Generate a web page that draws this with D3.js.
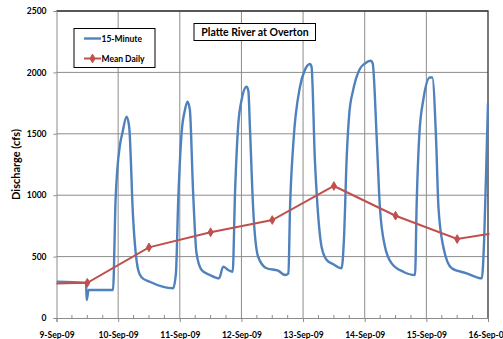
<!DOCTYPE html>
<html>
<head>
<meta charset="utf-8">
<script src="https://cdn.jsdelivr.net/npm/d3@7"></script>
<style>
  body { margin: 0; background: #fff; }
  svg { display: block; font-family: Lato, "Liberation Sans", sans-serif; font-weight: bold; }
</style>
</head>
<body>
<svg id="chart" width="503" height="339"></svg>
<script>
// 15-minute discharge, hours after 9-Sep-09 00:00
var quarterHours = [0, 11, 11.5, 11.75, 12.5, 22, 23, 24.7, 25.6, 27.3, 28.3, 29.8, 31.8, 33.2, 36.3, 45.4,
  46.5, 47.4, 48.7, 50, 51, 51.9, 53.2, 54.5, 56.5, 59.7, 63.3, 64.9, 66.8, 68.6,
  69.5, 70.7, 72.1, 74, 74.7, 75.3, 76.6, 78.5, 81.8, 86.3, 89, 90.3,
  90.9, 92.2, 94.8, 96.7, 98.7, 99.3, 100.6, 101.3, 103.2, 105.2, 107.6, 111,
  111.9, 113, 114, 115.5, 118.2, 120.1, 122.3, 123.1, 124.7, 125.9, 127.9, 130.5, 135, 139.6,
  140.2, 141.3, 142.8, 145.4, 146.3, 147.8, 148.7, 150.6, 153.9, 159.7, 165.6,
  166.5, 167.6, 168];
var quarterFlow = [296, 287, 280, 147, 228, 228, 960, 1408, 1500, 1640, 1557, 825, 391, 330, 295, 242,
  366, 960, 1506, 1693, 1761, 1700, 1017, 529, 391, 350, 323, 418, 391, 377,
  1015, 1557, 1780, 1883, 1850, 1557, 879, 499, 405, 385, 350, 364,
  879, 1422, 1883, 2019, 2068, 2046, 1286, 1015, 580, 472, 440, 405,
  635, 1313, 1666, 1856, 2032, 2073, 2095, 2073, 1449, 906, 580, 445, 377, 350,
  906, 1503, 1775, 1959, 1959, 1449, 906, 580, 405, 364, 323,
  635, 1449, 1748];

// mean daily discharge, plotted at noon
var dailyDates = ["2009-09-08", "2009-09-09", "2009-09-10", "2009-09-11", "2009-09-12",
  "2009-09-13", "2009-09-14", "2009-09-15", "2009-09-16"];
var dailyFlow = [277, 287, 575, 698, 798, 1075, 833, 643, 725];

var yTicks = [0, 500, 1000, 1500, 2000, 2500];

var start = new Date(2009, 8, 9), end = new Date(2009, 8, 16);
var parse = d3.timeParse("%Y-%m-%d");

var quarter = quarterHours.map((h, i) => ({ t: new Date(+start + h * 3600e3), v: quarterFlow[i] }));
var daily = dailyDates.map((d, i) => ({ t: d3.timeHour.offset(parse(d), 12), v: dailyFlow[i] }));

var svg = d3.select("#chart");
var pLeft = 56.5, pRight = 488, pTop = 11, pBottom = 318;

var x = d3.scaleTime().domain([start, end]).range([pLeft, pRight]);
var y = d3.scaleLinear().domain([0, 2500]).range([pBottom, pTop]);

svg.append("clipPath").attr("id", "clip")
  .append("rect").attr("x", pLeft).attr("y", pTop - 3).attr("width", pRight - pLeft + 1.5).attr("height", pBottom - pTop + 3);

// grid
svg.append("g").selectAll("line").data(yTicks.slice(1)).enter().append("line")
  .attr("x1", pLeft).attr("x2", pRight).attr("y1", d => y(d)).attr("y2", d => y(d))
  .attr("stroke", "#8c8c8c").attr("stroke-width", 1);
var days = d3.timeDay.range(start, end).slice(1);
svg.append("g").selectAll("line").data(days).enter().append("line")
  .attr("x1", d => x(d)).attr("x2", d => x(d)).attr("y1", pTop).attr("y2", pBottom)
  .attr("stroke", "#8c8c8c").attr("stroke-width", 1);

// border top/right
svg.append("path").attr("d", `M${pLeft},${pTop}H${pRight}V${pBottom}`)
  .attr("fill", "none").attr("stroke", "#333").attr("stroke-width", 1.3);

// x axis
var xAxis = d3.axisBottom(x).ticks(d3.timeDay.every(1)).tickFormat(d3.timeFormat("%-d-%b-%y")).tickSize(4).tickPadding(10);
var gx = svg.append("g").attr("transform", `translate(0,${pBottom})`).call(xAxis);
gx.select(".domain").attr("stroke", "#8c8c8c");
gx.selectAll(".tick line").attr("stroke", "#8c8c8c");
gx.selectAll("text").attr("font-size", 8.5).attr("font-weight", "bold").attr("font-family", "Lato").attr("fill", "#000");
var minor = d3.timeHour.every(6).range(start, end).filter(d => d.getHours() != 0);
svg.append("g").selectAll("line").data(minor).enter().append("line")
  .attr("x1", d => x(d)).attr("x2", d => x(d)).attr("y1", pBottom).attr("y2", pBottom - 3)
  .attr("stroke", "#8c8c8c");

// y axis
var yAxis = d3.axisLeft(y).tickValues(yTicks).tickFormat(d3.format("d")).tickSize(3).tickPadding(7);
var gy = svg.append("g").attr("transform", `translate(${pLeft},0)`).call(yAxis);
gy.select(".domain").attr("stroke", "#8c8c8c");
gy.selectAll(".tick line").attr("stroke", "#8c8c8c");
gy.selectAll("text").attr("font-size", 8.5).attr("font-weight", "bold").attr("font-family", "Lato").attr("fill", "#000");

svg.append("text").attr("transform", `translate(20,${(pTop + pBottom) / 2}) rotate(-90)`)
  .attr("text-anchor", "middle").attr("font-size", 11).text("Discharge (cfs)");

// series
var plot = svg.append("g").attr("clip-path", "url(#clip)");
plot.append("path").datum(quarter)
  .attr("d", d3.line().x(d => x(d.t)).y(d => y(d.v)).curve(d3.curveMonotoneX))
  .attr("fill", "none").attr("stroke", "#4F81BD").attr("stroke-width", 2.4).attr("stroke-linejoin", "round");
plot.append("path").datum(daily)
  .attr("d", d3.line().x(d => x(d.t)).y(d => y(d.v)))
  .attr("fill", "none").attr("stroke", "#C0504D").attr("stroke-width", 2);
var diamond = d3.symbol().type(d3.symbolDiamond).size(22);
plot.selectAll(".mk").data(daily).enter().append("path")
  .attr("class", "mk").attr("d", diamond)
  .attr("transform", d => `translate(${x(d.t)},${y(d.v)})`)
  .attr("fill", "#C0504D").attr("stroke", "#C0504D");

// legend
var lg = svg.append("g");
lg.append("rect").attr("x", 74).attr("y", 28.5).attr("width", 81).attr("height", 39)
  .attr("fill", "#fff").attr("stroke", "#000").attr("stroke-width", 1);
lg.append("line").attr("x1", 84).attr("x2", 101).attr("y1", 38.5).attr("y2", 38.5)
  .attr("stroke", "#4F81BD").attr("stroke-width", 2.4);
lg.append("text").attr("x", 101.5).attr("y", 41.5).attr("font-size", 8.5).text("15-Minute");
lg.append("line").attr("x1", 84).attr("x2", 101).attr("y1", 58.5).attr("y2", 58.5)
  .attr("stroke", "#C0504D").attr("stroke-width", 2);
lg.append("path").attr("d", diamond).attr("transform", "translate(92.5,58.5)")
  .attr("fill", "#C0504D").attr("stroke", "#C0504D");
lg.append("text").attr("x", 101.5).attr("y", 61.5).attr("font-size", 8.5).text("Mean Daily");

// title
svg.append("rect").attr("x", 194).attr("y", 23.5).attr("width", 121.5).attr("height", 17)
  .attr("fill", "#fff").attr("stroke", "#000").attr("stroke-width", 1);
svg.append("text").attr("x", 255).attr("y", 35.8).attr("text-anchor", "middle")
  .attr("font-size", 10.5).text("Platte River at Overton");
</script>
</body>
</html>
